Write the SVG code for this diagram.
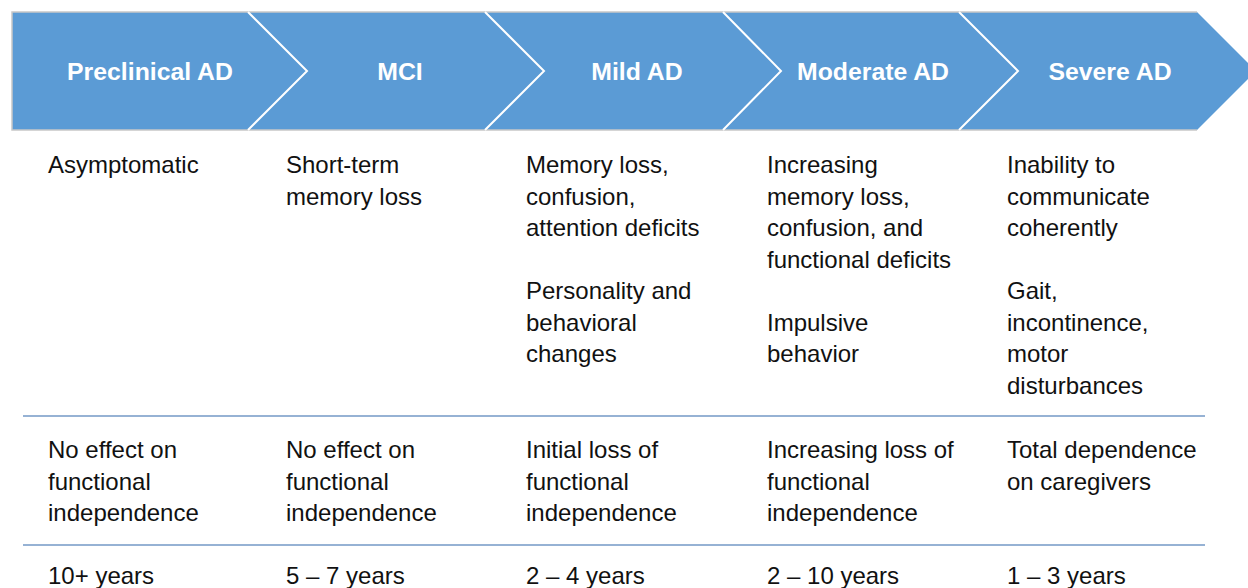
<svg xmlns="http://www.w3.org/2000/svg" width="1248" height="588" viewBox="0 0 1248 588">
<style>
.hdr{font-family:"Liberation Sans",Arial,sans-serif;font-weight:bold;font-size:24.8px;fill:#ffffff;text-anchor:middle}
.txt{font-family:"Liberation Sans",Arial,sans-serif;font-size:24px;fill:#111111}
.sep{stroke:#ffffff;stroke-width:2;fill:none}
.rule{stroke:#7399c6;stroke-width:1.5}
</style>
<rect width="1248" height="588" fill="#ffffff"/>
<g id="bar">
<polygon points="12,12 1197,12 1256,71 1197,130 12,130" fill="#5b9bd5"/>
<polyline points="1197,12 12,12 12,130 1197,130" fill="none" stroke="#c8c8c8" stroke-width="1.5"/>
</g>
<g id="connectors">
<polyline class="sep" points="248,12 307,71 248,130"/>
<polyline class="sep" points="485,12 544,71 485,130"/>
<polyline class="sep" points="723,12 781,71 723,130"/>
<polyline class="sep" points="959,12 1018,71 959,130"/>
<line class="rule" x1="23" y1="416" x2="1205" y2="416"/>
<line class="rule" x1="23" y1="545" x2="1205" y2="545"/>
</g>
<g id="stage1">
<text class="hdr" x="150" y="80">Preclinical AD</text>
<text class="txt" x="48" y="173">Asymptomatic</text>
<text class="txt" x="48" y="458">No effect on</text>
<text class="txt" x="48" y="489.5">functional</text>
<text class="txt" x="48" y="521">independence</text>
<text class="txt" x="48" y="584">10+ years</text>
</g>
<g id="stage2">
<text class="hdr" x="400" y="80">MCI</text>
<text class="txt" x="286" y="173">Short-term</text>
<text class="txt" x="286" y="204.5">memory loss</text>
<text class="txt" x="286" y="458">No effect on</text>
<text class="txt" x="286" y="489.5">functional</text>
<text class="txt" x="286" y="521">independence</text>
<text class="txt" x="286" y="584">5 – 7 years</text>
</g>
<g id="stage3">
<text class="hdr" x="637" y="80">Mild AD</text>
<text class="txt" x="526" y="173">Memory loss,</text>
<text class="txt" x="526" y="204.5">confusion,</text>
<text class="txt" x="526" y="236">attention deficits</text>
<text class="txt" x="526" y="299">Personality and</text>
<text class="txt" x="526" y="330.5">behavioral</text>
<text class="txt" x="526" y="362">changes</text>
<text class="txt" x="526" y="458">Initial loss of</text>
<text class="txt" x="526" y="489.5">functional</text>
<text class="txt" x="526" y="521">independence</text>
<text class="txt" x="526" y="584">2 – 4 years</text>
</g>
<g id="stage4">
<text class="hdr" x="873" y="80">Moderate AD</text>
<text class="txt" x="767" y="173">Increasing</text>
<text class="txt" x="767" y="204.5">memory loss,</text>
<text class="txt" x="767" y="236">confusion, and</text>
<text class="txt" x="767" y="267.5">functional deficits</text>
<text class="txt" x="767" y="330.5">Impulsive</text>
<text class="txt" x="767" y="362">behavior</text>
<text class="txt" x="767" y="458">Increasing loss of</text>
<text class="txt" x="767" y="489.5">functional</text>
<text class="txt" x="767" y="521">independence</text>
<text class="txt" x="767" y="584">2 – 10 years</text>
</g>
<g id="stage5">
<text class="hdr" x="1110" y="80">Severe AD</text>
<text class="txt" x="1007" y="173">Inability to</text>
<text class="txt" x="1007" y="204.5">communicate</text>
<text class="txt" x="1007" y="236">coherently</text>
<text class="txt" x="1007" y="299">Gait,</text>
<text class="txt" x="1007" y="330.5">incontinence,</text>
<text class="txt" x="1007" y="362">motor</text>
<text class="txt" x="1007" y="393.5">disturbances</text>
<text class="txt" x="1007" y="458">Total dependence</text>
<text class="txt" x="1007" y="489.5">on caregivers</text>
<text class="txt" x="1007" y="584">1 – 3 years</text>
</g>
</svg>
